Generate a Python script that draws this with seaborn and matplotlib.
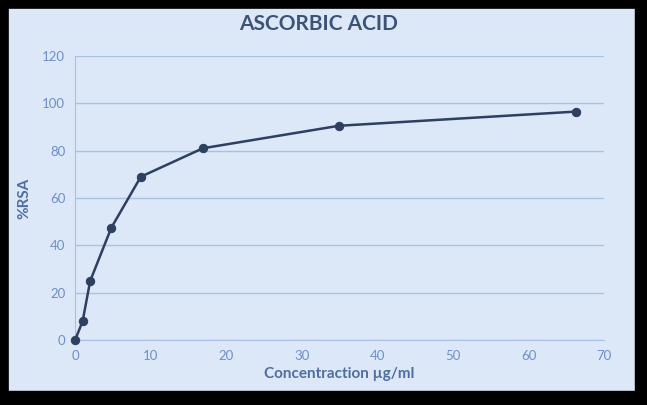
import matplotlib
matplotlib.use("Agg")
import matplotlib.pyplot as plt
import seaborn as sns
import pandas as pd
from matplotlib.patches import Rectangle

# values
concentration = [0, 1, 2, 4.8, 8.7, 16.9, 34.9, 66.3]
rsa = [0, 8, 25, 47.5, 69, 81, 90.5, 96.5]
x_ticks = [0, 10, 20, 30, 40, 50, 60, 70]
y_ticks = [0, 20, 40, 60, 80, 100, 120]

df = pd.DataFrame({"conc": concentration, "rsa": rsa})

sns.set_style("white")
plt.rcParams["font.family"] = ["Lato", "DejaVu Sans"]

bg = "#dce8f7"
label_col = "#6f8fc6"
grid_col = "#a9c1e6"
line_col = "#2e3f5f"

fig = plt.figure(figsize=(6.47, 4.05), dpi=100, facecolor=bg)
# black frame round the slide, a bit heavier at bottom/right like the photo
fig.patches.append(Rectangle((0, 0), 1, 1, transform=fig.transFigure,
                             fill=False, edgecolor="black", linewidth=12))
fig.patches.append(Rectangle((0, 0), 1, 0.035, transform=fig.transFigure,
                             color="black"))
fig.patches.append(Rectangle((0.982, 0), 0.018, 1, transform=fig.transFigure,
                             color="black"))

ax = fig.add_axes([0.116, 0.160, 0.818, 0.702])
ax.set_facecolor(bg)

sns.lineplot(data=df, x="conc", y="rsa", ax=ax, color=line_col, linewidth=1.8,
             marker="o", markersize=6, markeredgecolor=line_col,
             markerfacecolor=line_col, clip_on=False, zorder=5)

ax.set_xlim(0, 70)
ax.set_ylim(0, 120)
ax.set_xticks(x_ticks)
ax.set_yticks(y_ticks)
ax.yaxis.grid(True, color=grid_col, linewidth=1)
ax.xaxis.grid(False)
ax.tick_params(length=0, labelsize=9.5, colors=label_col, pad=7)
for side in ["top", "right"]:
    ax.spines[side].set_visible(False)
ax.spines["left"].set_color(grid_col)
ax.spines["bottom"].set_color(grid_col)
ax.set_axisbelow(True)

ax.set_xlabel("Concentraction µg/ml", color="#4f6e9e", fontsize=11,
              fontweight="bold", labelpad=4)
ax.set_ylabel("%RSA", color="#4f6e9e", fontsize=11, fontweight="bold",
              labelpad=8)
fig.text(0.493, 0.94, "ASCORBIC ACID", ha="center", va="center",
         color="#3d5375", fontsize=15, fontweight="bold")

fig.savefig("out.png", dpi=100, facecolor=bg)
